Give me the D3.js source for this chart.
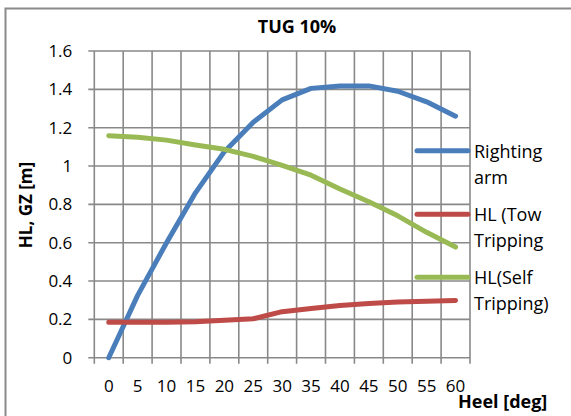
<!DOCTYPE html>
<html>
<head>
<meta charset="utf-8">
<script src="https://cdn.jsdelivr.net/npm/d3@7"></script>
<style>
  html, body { margin: 0; padding: 0; background: #fff; }
  svg { display: block; font-family: "Open Sans", "Liberation Sans", sans-serif; }
</style>
</head>
<body>
<svg id="chart" width="571" height="416"></svg>
<script>
// ---- Data ----
const title = "TUG 10%";
const xTitle = "Heel [deg]";
const yTitle = "HL, GZ [m]";
const heel = ["0","5","10","15","20","25","30","35","40","45","50","55","60"];
const rightingArm = [0, 0.325, 0.6, 0.86, 1.075, 1.228, 1.345, 1.405, 1.418, 1.418, 1.39, 1.335, 1.26];
const hlTow = [0.185, 0.185, 0.185, 0.187, 0.195, 0.203, 0.24, 0.257, 0.272, 0.283, 0.29, 0.295, 0.298];
const hlSelf = [1.158, 1.15, 1.135, 1.11, 1.087, 1.05, 1.003, 0.952, 0.88, 0.814, 0.74, 0.654, 0.577];
const yTicks = [0, 0.2, 0.4, 0.6, 0.8, 1, 1.2, 1.4, 1.6];
const seriesNames = [["Righting", "arm"], ["HL (Tow", "Tripping"], ["HL(Self", "Tripping)"]];
const seriesColors = ["#4A7EBB", "#BE4B48", "#98B954"];
const seriesData = [rightingArm, hlTow, hlSelf];

// ---- Layout ----
const svg = d3.select("#chart");
const plot = { left: 94.3, right: 470, top: 51, bottom: 357.7 };
const gridColor = "#898989";

// chart border (cropped at right/bottom)
svg.append("rect")
  .attr("x", 5.5).attr("y", 8.5).attr("width", 700).attr("height", 500)
  .attr("fill", "none").attr("stroke", "#8a8a8a").attr("stroke-width", 2);

const x = d3.scaleBand().domain(heel).range([plot.left, plot.right]).padding(0);
const y = d3.scaleLinear().domain([0, 1.6]).range([plot.bottom, plot.top]);
const cx = d => x(d) + x.bandwidth() / 2;

// Horizontal gridlines
svg.append("g").selectAll("line").data(yTicks).join("line")
  .attr("x1", plot.left - 6).attr("x2", plot.right)
  .attr("y1", d => y(d)).attr("y2", d => y(d))
  .attr("stroke", gridColor).attr("stroke-width", 1.6);

// Vertical gridlines at category boundaries
const bounds = heel.map(h => x(h)).concat([x(heel[heel.length - 1]) + x.bandwidth()]);
svg.append("g").selectAll("line").data(bounds).join("line")
  .attr("x1", d => d).attr("x2", d => d)
  .attr("y1", plot.top).attr("y2", plot.bottom + 6)
  .attr("stroke", gridColor).attr("stroke-width", 1.6);

// Y axis labels
const yAxis = d3.axisLeft(y).tickValues(yTicks).tickSize(0).tickPadding(22)
  .tickFormat(d => d === 0 ? "0" : String(+d.toFixed(1)));
const gy = svg.append("g").attr("transform", `translate(${plot.left},0)`).call(yAxis);
gy.select(".domain").remove();
gy.selectAll("text").attr("font-size", 17).attr("fill", "#000")
  .attr("font-family", "'Open Sans', sans-serif");

// X axis labels
const xAxis = d3.axisBottom(x).tickSize(0).tickPadding(22);
const gx = svg.append("g").attr("transform", `translate(0,${plot.bottom})`).call(xAxis);
gx.select(".domain").remove();
gx.selectAll("text").attr("font-size", 17).attr("fill", "#000")
  .attr("font-family", "'Open Sans', sans-serif");

// Lines
const line = d3.line().x((d, i) => cx(heel[i])).y(d => y(d));
seriesData.forEach((arr, k) => {
  svg.append("path").datum(arr)
    .attr("d", line)
    .attr("fill", "none")
    .attr("stroke", seriesColors[k])
    .attr("stroke-width", 5)
    .attr("stroke-linejoin", "round")
    .attr("stroke-linecap", "round");
});

// Title
svg.append("text").attr("x", 297).attr("y", 33)
  .attr("text-anchor", "middle").attr("font-size", 18).attr("font-weight", "bold")
  .text(title);

// Y title
svg.append("text").attr("transform", "translate(32,205) rotate(-90)")
  .attr("text-anchor", "middle").attr("font-size", 17).attr("font-weight", "bold")
  .text(yTitle);

// X title
svg.append("text").attr("x", 458).attr("y", 408)
  .attr("font-size", 18).attr("font-weight", "bold")
  .text(xTitle);

// Legend
const legendY = [150.7, 214.3, 277.3];
const lg = svg.append("g");
seriesNames.forEach((names, k) => {
  const ly = legendY[k];
  lg.append("line").attr("x1", 417).attr("x2", 468).attr("y1", ly).attr("y2", ly)
    .attr("stroke", seriesColors[k]).attr("stroke-width", 5).attr("stroke-linecap", "round");
  names.forEach((t, j) => {
    lg.append("text").attr("x", 474).attr("y", ly + 7 + j * 26)
      .attr("font-size", 18).text(t);
  });
});
</script>
</body>
</html>
